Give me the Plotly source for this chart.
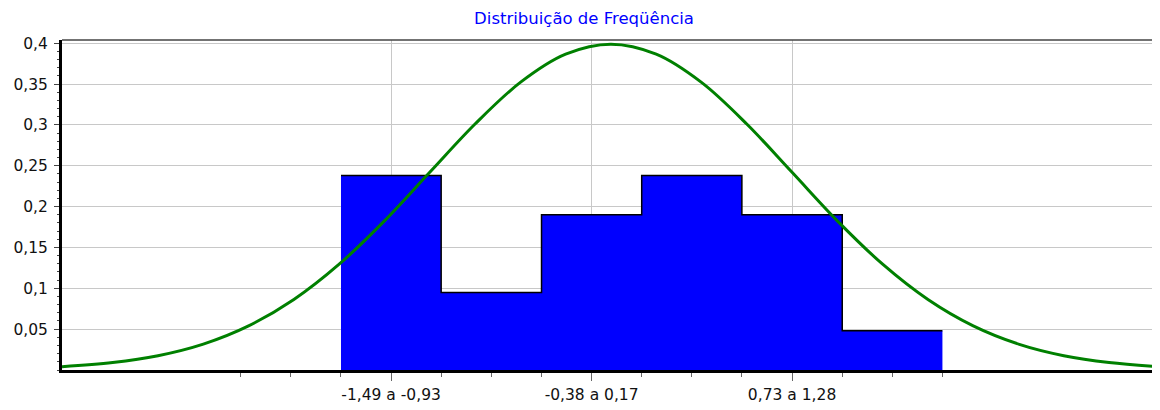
import plotly.graph_objects as go

# ---- data ----
bin_edges = [-1.49, -0.937, -0.383, 0.170, 0.723, 1.277, 1.830]
bin_labels = ["-1,49 a -0,93", "-0,93 a -0,38", "-0,38 a 0,17",
              "0,17 a 0,73", "0,73 a 1,28", "1,28 a 1,83"]
rel_freq = [0.238, 0.095, 0.190, 0.238, 0.190, 0.048]

curve_x = [-3.03, -2.75, -2.5, -2.25, -2.0, -1.75, -1.5, -1.25, -1.0, -0.75, -0.5, -0.25,
           0.0, 0.25, 0.5, 0.75, 1.0, 1.25, 1.5, 1.75, 2.0, 2.25, 2.5, 2.75, 3.02]
curve_y = [0.0040, 0.0091, 0.0175, 0.0317, 0.0540, 0.0863, 0.1295, 0.1826, 0.2420, 0.3011,
           0.3521, 0.3867, 0.3989, 0.3867, 0.3521, 0.3011, 0.2420, 0.1826, 0.1295, 0.0863,
           0.0540, 0.0317, 0.0175, 0.0091, 0.0042]

y_ticks = [0.05, 0.1, 0.15, 0.2, 0.25, 0.3, 0.35, 0.4]
y_tick_text = ["0,05", "0,1", "0,15", "0,2", "0,25", "0,3", "0,35", "0,4"]
labeled_bins = [0, 2, 4]

# ---- derived positions ----
centers = [(bin_edges[i] + bin_edges[i + 1]) / 2 for i in range(len(rel_freq))]
half = (bin_edges[-1] - bin_edges[0]) / len(rel_freq) / 2
minor_ticks = [bin_edges[0] - 2 * half + k * half for k in range(2 * len(rel_freq) + 3)]
major_vals = [centers[i] for i in labeled_bins]
major_text = [bin_labels[i] for i in labeled_bins]

FONT = "DejaVu Sans"

fig = go.Figure()
fig.add_trace(go.Scatter(
    x=bin_edges, y=rel_freq + [rel_freq[-1]],
    mode="lines", line=dict(shape="hv", color="black", width=1.5),
    fill="tozeroy", fillcolor="#0000FF", hoverinfo="skip", showlegend=False))
fig.add_trace(go.Scatter(
    x=curve_x, y=curve_y, mode="lines",
    line=dict(color="#008000", width=3, shape="spline"),
    hoverinfo="skip", showlegend=False))

# page body has an 8px margin, so the figure is 8px smaller and shifted
fig.update_layout(
    width=1152, height=402,
    margin=dict(l=54, r=2, t=32, b=40),
    paper_bgcolor="white", plot_bgcolor="white",
    title=dict(text="Distribuição de Freqüência", xref="container", x=0.5,
               xanchor="center", yref="container", y=1 - 10.5 / 402, yanchor="middle",
               font=dict(family=FONT, size=16.5, color="#0000FF")),
    font=dict(family=FONT, size=15.5, color="#111111"),
    xaxis=dict(range=[-3.03, 3.02], showline=True, linecolor="black", linewidth=3,
               tickmode="array", tickvals=major_vals, ticktext=major_text,
               ticks="outside", ticklen=8, tickwidth=1.2, tickcolor="#666666",
               showgrid=True, gridcolor="#c8c8c8", gridwidth=1.3, zeroline=False,
               minor=dict(tickmode="array", tickvals=minor_ticks, ticks="outside",
                          ticklen=4, tickwidth=1.2, tickcolor="#666666", showgrid=False)),
    yaxis=dict(range=[0, 0.404], showline=True, linecolor="black", linewidth=3,
               tickmode="array", tickvals=y_ticks, ticktext=y_tick_text,
               ticks="outside", ticklen=5, tickwidth=1.2, tickcolor="#444444",
               ticklabelstandoff=3,
               showgrid=True, gridcolor="#c8c8c8", gridwidth=1.3, zeroline=False,
               minor=dict(dtick=0.01, tick0=0, ticks="outside", ticklen=2,
                          tickwidth=1.2, tickcolor="#444444", showgrid=False)),
    shapes=[
        dict(type="line", xref="paper", yref="paper", x0=0, x1=1, y0=1, y1=1,
             line=dict(color="#444444", width=1.3)),
        dict(type="line", xref="paper", yref="paper", x0=1, x1=1, y0=0, y1=1,
             line=dict(color="#444444", width=1.3)),
    ],
)

fig.write_html("out.html")
